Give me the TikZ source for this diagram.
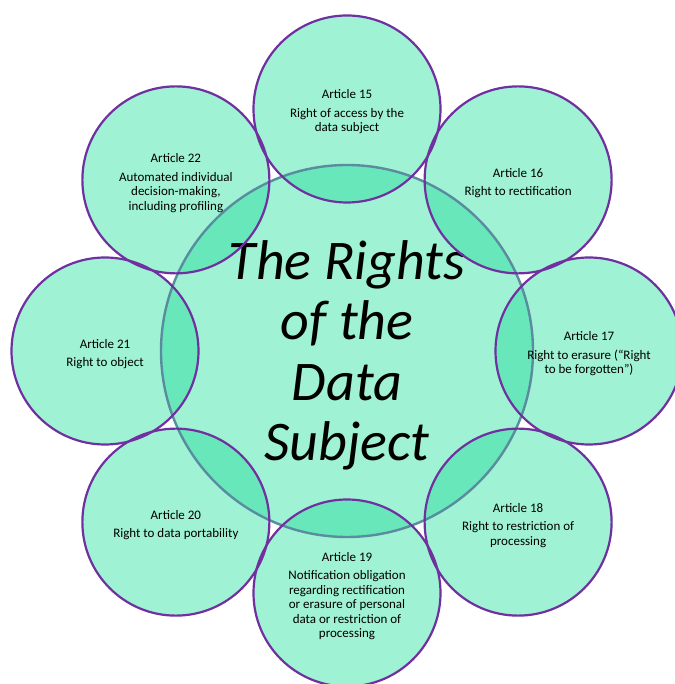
\documentclass[tikz,border=0pt]{standalone}
\usepackage{fontspec}
\setmainfont{Carlito}
\usepackage{tikz}
\definecolor{mint}{RGB}{159,242,211}
\definecolor{mintdark}{RGB}{104,232,186}
\definecolor{rimpurple}{RGB}{112,48,160}
\definecolor{rimteal}{RGB}{88,140,158}
\pgfdeclarelayer{background}
\pgfsetlayers{background,main}
\newcommand{\artno}[1]{\rule{0pt}{15pt}Article #1}
\tikzstyle{hub} = [circle, minimum size=372pt, inner sep=0pt, draw=rimteal, line width=2.4pt, align=center, font=\fontsize{56}{60.5}\selectfont\itshape]
\tikzstyle{article} = [circle, minimum size=187pt, inner sep=0pt, draw=rimpurple, line width=2.2pt, align=center, font=\fontsize{13}{14.5}\selectfont]

\begin{document}
\begin{tikzpicture}[x=1pt, y=1pt]
        \useasboundingbox (-347,-333) rectangle (327,351);
        % Nodes
        \node (rights) [hub] at (0,0) {\rule{0pt}{48pt}The Rights\\of the\\Data\\Subject};
        \node (art15) [article] at (90:242) {\artno{15}\\[4pt]Right of access by the\\data subject};
        \node (art16) [article] at (45:242) {\artno{16}\\[4pt]Right to rectification};
        \node (art17) [article] at (0:242) {\artno{17}\\[4pt]Right to erasure (``Right\\to be forgotten'')};
        \node (art18) [article] at (-45:242) {\artno{18}\\[4pt]Right to restriction of\\processing};
        \node (art19) [article] at (-90:242) {\artno{19}\\[4pt]Notification obligation\\regarding rectification\\or erasure of personal\\data or restriction of\\processing};
        \node (art20) [article] at (-135:242) {\artno{20}\\[4pt]Right to data portability};
        \node (art21) [article] at (180:242) {\artno{21}\\[4pt]Right to object};
        \node (art22) [article] at (135:242) {\artno{22}\\[4pt]Automated individual\\decision-making,\\including profiling};

        % Fills and overlaps
        \begin{pgfonlayer}{background}
            \fill [mint] (rights.center) circle (186);
            \foreach \n in {15,...,22}
                \fill [mint] (art\n.center) circle (93.5);
            \clip (rights.center) circle (186);
            \foreach \n in {15,...,22}
                \fill [mintdark] (art\n.center) circle (93.5);
        \end{pgfonlayer}
    \end{tikzpicture}
\end{document}
